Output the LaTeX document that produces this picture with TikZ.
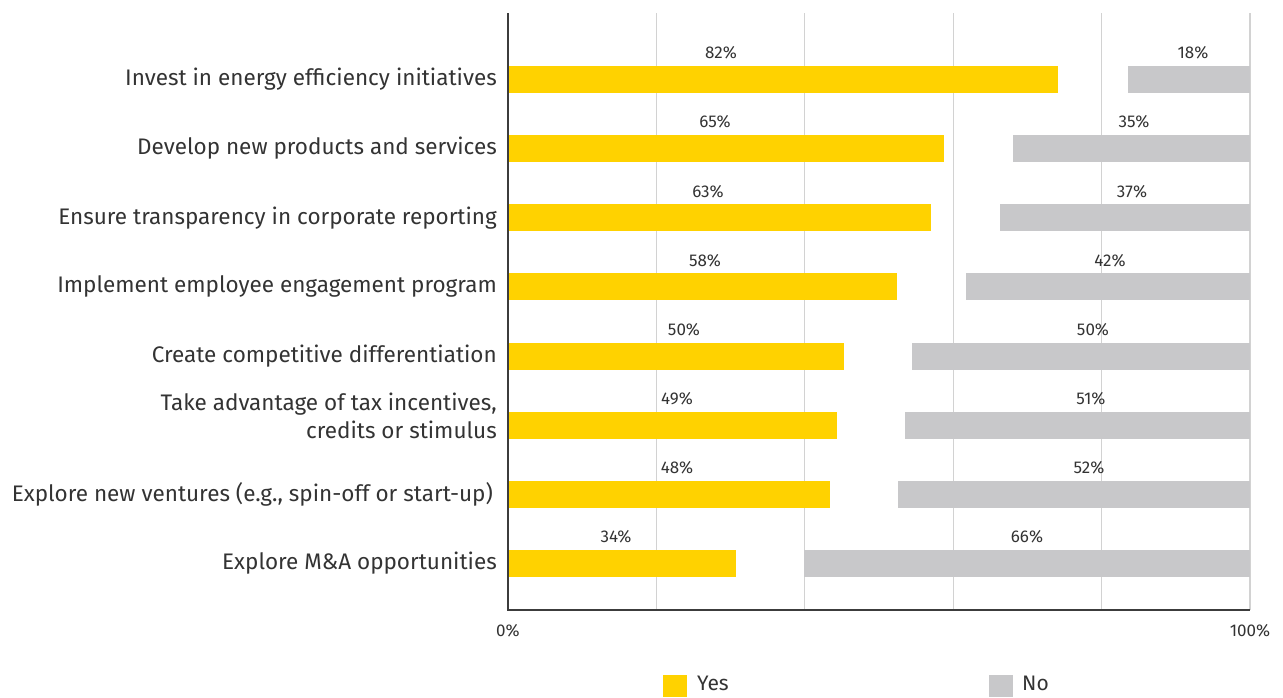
\documentclass[tikz,border=0pt]{standalone}
\usepackage{fontspec}
\setmainfont{Fira Sans}
\definecolor{eyyellow}{HTML}{FFD200}
\definecolor{nogray}{HTML}{C8C8CA}
\definecolor{txt}{HTML}{333333}
\definecolor{grid}{HTML}{D2D2D2}
\definecolor{axis}{HTML}{3C3C3C}
\tikzset{
  cat/.style={anchor=east,inner sep=0pt,text=txt,font=\fontsize{22.5}{28}\selectfont,align=right},
  pct/.style={inner sep=0pt,text=txt,font=\fontsize{17}{19}\selectfont},
  yesbar/.style={fill=eyyellow,draw=none},
  nobar/.style={fill=nogray,draw=none},
  gridline/.style={draw=grid,line width=1.2pt},
  axisline/.style={draw=axis,line width=1.6pt},
  leg/.style={anchor=base west,inner sep=0pt,text=txt,font=\fontsize{21}{23}\selectfont}
}
\begin{document}
\begin{tikzpicture}[x=1pt,y=-1pt]
\useasboundingbox (0,0) rectangle (1283,697);
% gridlines
\foreach \gx in {656.4,804.8,953.2,1101.6,1250} {
  \draw[gridline] (\gx,13) -- (\gx,610);
}
% bars: yes%, no%, row center, yes label x, no label x
\foreach \yv/\nv/\cy/\lx/\nx [count=\i] in {
  82/18/79.5/721/1193,
  65/35/148.6/715/1134,
  63/37/217.8/708/1132,
  58/42/286.9/705/1110,
  50/50/356.1/684/1093,
  49/51/425.2/677/1091,
  48/52/494.3/677/1089,
  34/66/563.5/616/1027} {
  \fill[yesbar] (508,\cy-13.5) rectangle ({508+6.71*\yv},\cy+13.5);
  \fill[nobar] ({1250-6.76*\nv},\cy-13.5) rectangle (1250,\cy+13.5);
  \node[pct] (y\i) at (\lx,\cy-26.5) {\yv\%};
  \node[pct] (n\i) at (\nx,\cy-26.5) {\nv\%};
}
% axes
\draw[axisline] (508,13) -- (508,610) -- (1250,610);
\node[pct] (x0) at (508,631) {0\%};
\node[pct] (x100) at (1250,631) {100\%};
% category labels
\node[cat] (c1) at (497,79.5) {Invest in energy efficiency initiatives};
\node[cat] (c2) at (497,148.6) {Develop new products and services};
\node[cat] (c3) at (497,217.8) {Ensure transparency in corporate reporting};
\node[cat] (c4) at (497,286.9) {Implement employee engagement program};
\node[cat] (c5) at (497,356.1) {Create competitive differentiation};
\node[cat] (c6) at (497,416) {Take advantage of tax incentives,\\credits or stimulus};
\node[cat] (c7) at (493,494.3) {Explore new ventures (e.g., spin-off or start-up)};
\node[cat] (c8) at (497,563.5) {Explore M\&A opportunities};
% legend
\fill[yesbar] (663,675) rectangle (687,697);
\node[leg] (ly) at (697,690) {Yes};
\fill[nobar] (989,675) rectangle (1013,697);
\node[leg] (ln) at (1022,690) {No};
\end{tikzpicture}
\end{document}
